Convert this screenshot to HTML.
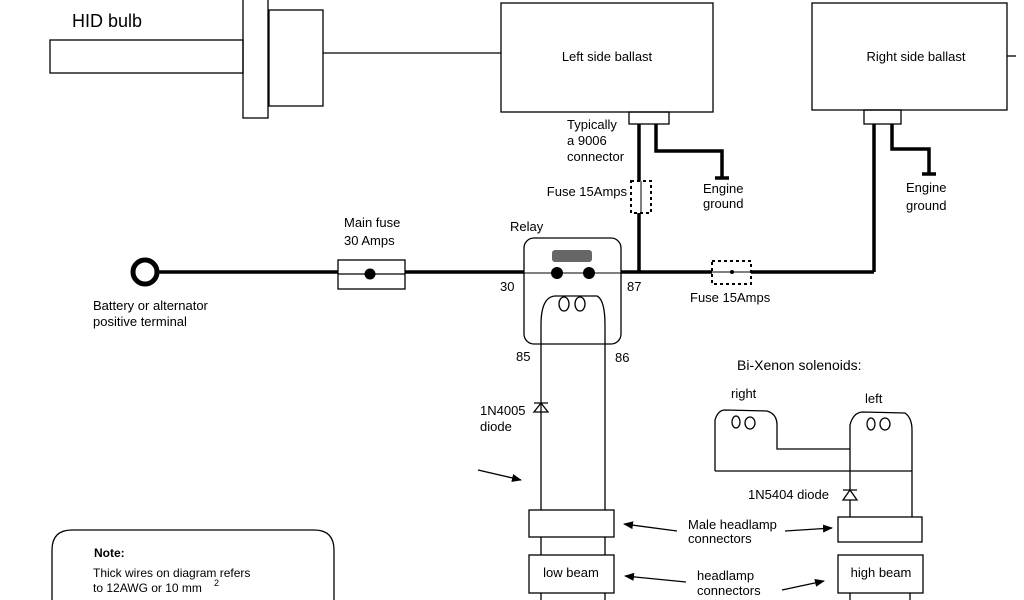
<!DOCTYPE html>
<html><head><meta charset="utf-8"><style>html,body{margin:0;padding:0;background:#fff}svg{display:block}</style></head><body>
<svg width="1024" height="600" viewBox="0 0 1024 600" xmlns="http://www.w3.org/2000/svg" font-family="Liberation Sans, sans-serif" fill="none" stroke="#000">
<defs><marker id="a" markerWidth="10" markerHeight="8" refX="9" refY="4" orient="auto" markerUnits="userSpaceOnUse"><path d="M0,0 L10,4 L0,8 Z" fill="#000" stroke="none"/></marker></defs>
<g stroke-width="1.3">
<!-- HID bulb -->
<rect x="50" y="40" width="193" height="33"/>
<rect x="243" y="-2" width="25" height="120"/>
<rect x="269" y="10" width="54" height="96"/>
<line x1="323" y1="53" x2="501" y2="53"/>
<!-- ballasts -->
<rect x="501" y="3" width="212" height="109"/>
<rect x="629" y="112" width="40" height="12"/>
<rect x="812" y="3" width="195" height="107"/>
<line x1="1007" y1="56" x2="1016" y2="56"/>
<rect x="864" y="110" width="37" height="14"/>
</g>
<!-- thick wires -->
<g stroke-width="3.5">
<polyline points="639,124 639,272"/>
<polyline points="656,124 656,151 722,151 722,178"/>
<line x1="715" y1="178" x2="729" y2="178"/>
<polyline points="874,124 874,272"/>
<polyline points="892,124 892,149 929,149 929,174"/>
<line x1="922" y1="174" x2="936" y2="174"/>
<line x1="157" y1="272" x2="524" y2="272"/>
<line x1="621" y1="272" x2="874" y2="272"/>
</g>
<circle cx="145" cy="272" r="12" stroke-width="5"/>
<!-- fuses -->
<rect x="631" y="181" width="20" height="32" fill="#fff" stroke-width="2" stroke-dasharray="3,3"/>
<line x1="641" y1="181" x2="641" y2="213" stroke-width="1"/>
<rect x="712" y="261" width="39" height="23" fill="#fff" stroke-width="2" stroke-dasharray="3,3"/>
<line x1="712" y1="272" x2="751" y2="272" stroke-width="1"/>
<circle cx="732" cy="272" r="1.5" fill="#000"/>
<rect x="338" y="260" width="67" height="29" fill="#fff" stroke-width="1.3"/>
<line x1="338" y1="274" x2="405" y2="274" stroke-width="1.3"/>
<circle cx="370" cy="274" r="5" fill="#000"/>
<!-- relay -->
<rect x="524" y="238" width="97" height="106" rx="10" stroke-width="1.3"/>
<rect x="552" y="250" width="40" height="12" rx="3" fill="#666" stroke="none"/>
<line x1="524" y1="273" x2="621" y2="273" stroke-width="1"/>
<circle cx="557" cy="273" r="6" fill="#000" stroke="none"/>
<circle cx="589" cy="273" r="6" fill="#000" stroke="none"/>
<g stroke-width="1.3">
<path d="M541,600 L541,325 Q541,297 555,296 L597,296 Q605,300 605,325 L605,600"/>
<ellipse cx="564" cy="304" rx="5" ry="7"/><ellipse cx="580" cy="304" rx="5" ry="7"/>
<path d="M534,403 L548,403 M534,412 L548,412 L541,403 Z"/>
<rect x="529" y="510" width="85" height="27" fill="#fff"/>
<rect x="529" y="555" width="85" height="38" fill="#fff"/>
<line x1="478" y1="470" x2="521" y2="480" marker-end="url(#a)"/>
<line x1="677" y1="531" x2="624" y2="524" marker-end="url(#a)"/>
<line x1="686" y1="582" x2="625" y2="576" marker-end="url(#a)"/>
<line x1="785" y1="531" x2="832" y2="528" marker-end="url(#a)"/>
<line x1="782" y1="590" x2="824" y2="581" marker-end="url(#a)"/>
<!-- solenoids -->
<path d="M715,471 L715,420 Q718,410 725,410 L767,411 Q777,414 777,425 L777,449 L850,449"/>
<path d="M850,517 L850,425 Q853,413 862,412 L905,413 Q912,418 912,430 L912,517"/>
<line x1="715" y1="471" x2="912" y2="471"/>
<ellipse cx="736" cy="422" rx="4" ry="6"/><ellipse cx="750" cy="423" rx="5" ry="6"/>
<ellipse cx="871" cy="424" rx="4" ry="6"/><ellipse cx="885" cy="424" rx="5" ry="6"/>
<path d="M843,490 L857,490 M843,500 L857,500 L850,490 Z" fill="#fff"/>
<rect x="838" y="517" width="84" height="25" fill="#fff"/>
<rect x="838" y="555" width="85" height="38" fill="#fff"/>
<line x1="850" y1="593" x2="850" y2="600"/><line x1="910" y1="593" x2="910" y2="600"/>
<path d="M52,610 L52,550 Q52,530 72,530 L314,530 Q334,530 334,550 L334,610"/>
</g>
<g fill="#000" stroke="none" font-size="13">
<text x="72" y="27" font-size="18">HID bulb</text>
<text x="607" y="61" text-anchor="middle">Left side ballast</text>
<text x="916" y="61" text-anchor="middle">Right side ballast</text>
<text x="567" y="129">Typically</text><text x="567" y="145">a 9006</text><text x="567" y="161">connector</text>
<text x="627" y="196" text-anchor="end">Fuse 15Amps</text>
<text x="703" y="193">Engine</text><text x="703" y="208">ground</text>
<text x="906" y="192">Engine</text><text x="906" y="210">ground</text>
<text x="344" y="227">Main fuse</text><text x="344" y="245">30 Amps</text>
<text x="510" y="231">Relay</text>
<text x="500" y="291">30</text><text x="627" y="291">87</text>
<text x="690" y="302">Fuse 15Amps</text>
<text x="93" y="310">Battery or alternator</text><text x="93" y="326">positive terminal</text>
<text x="516" y="361">85</text><text x="615" y="362">86</text>
<text x="480" y="415">1N4005</text><text x="480" y="431">diode</text>
<text x="737" y="370" font-size="14">Bi-Xenon solenoids:</text>
<text x="731" y="398">right</text><text x="865" y="403">left</text>
<text x="748" y="499">1N5404 diode</text>
<text x="688" y="529">Male headlamp</text><text x="688" y="543">connectors</text>
<text x="697" y="580">headlamp</text><text x="697" y="595">connectors</text>
<text x="571" y="577" text-anchor="middle">low beam</text>
<text x="881" y="577" text-anchor="middle">high beam</text>
<text x="94" y="557" font-weight="bold" font-size="12">Note:</text>
<text x="93" y="577" font-size="12">Thick wires on diagram refers</text>
<text x="93" y="592" font-size="12">to 12AWG or 10 mm</text><text x="214" y="586" font-size="9">2</text>
</g>
</svg>
</body></html>
